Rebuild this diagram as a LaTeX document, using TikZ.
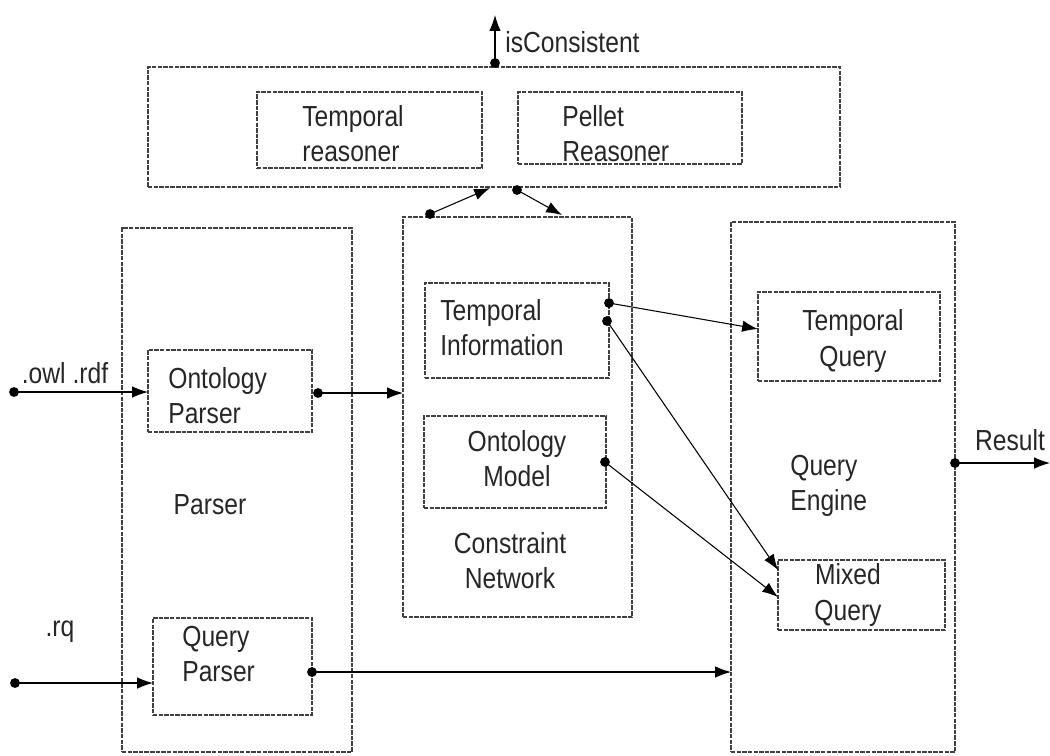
\documentclass[tikz,border=0pt]{standalone}
\usepackage{fontspec}
\setmainfont{Liberation Sans}[FakeStretch=0.85]
\usetikzlibrary{arrows.meta,fit}
\begin{document}
\begin{tikzpicture}[x=0.02cm,y=-0.02cm,
  box/.style={draw=black!75, dash pattern=on 2.5pt off 0.7pt, line width=0.6pt, inner sep=0pt},
  lbl/.style={font=\fontsize{16.5}{20}\selectfont, inner sep=0pt, text=black!85},
  arr/.style={line width=0.6pt, -{Latex[length=9pt,width=6.5pt]}},
  dot/.style={fill=black}]
\useasboundingbox (0,0) rectangle (1050,755);
% boxes
\node[box, fit={(148,67) (840,187)}] (top) {};
\node[box, fit={(257,92) (482,168)}] (tr) {};
\node[box, fit={(518,92) (742,164)}] (pr) {};
\node[box, fit={(122,228) (352,752)}] (parser) {};
\node[box, fit={(148,350) (312,432)}] (op) {};
\node[box, fit={(153,618) (312,715)}] (qp) {};
\node[box, fit={(403,217) (632,617)}] (cn) {};
\node[box, fit={(425,283) (609,378)}] (ti) {};
\node[box, fit={(424,416) (606,508)}] (om) {};
\node[box, fit={(731,222) (955,752)}] (qe) {};
\node[box, fit={(758,292) (940,381)}] (tq) {};
\node[box, fit={(778,560) (945,630)}] (mq) {};
% labels
\node[lbl, anchor=west, align=left] (trl) at (302,134) {Temporal\\reasoner};
\node[lbl, anchor=west, align=left] (prl) at (562,134) {Pellet\\Reasoner};
\node[lbl, anchor=west, align=left] (opl) at (168,396) {Ontology\\Parser};
\node[lbl] (parserl) at (210,505) {Parser};
\node[lbl, anchor=west, align=left] (qpl) at (182,654) {Query\\Parser};
\node[lbl, anchor=west, align=left] (til) at (440,328) {Temporal\\Information};
\node[lbl, align=center] (oml) at (517,459) {Ontology\\Model};
\node[lbl, align=center] (cnl) at (510,561) {Constraint\\Network};
\node[lbl, align=center] (tql) at (853,341) {Temporal\\Query};
\node[lbl, anchor=west, align=left] (qel) at (790,486) {Query\\Engine};
\node[lbl, align=center] (mql) at (848,595) {Mixed\\Query};
\node[lbl, anchor=west] (icl) at (505,42) {isConsistent};
\node[lbl] (owll) at (65,373) {.owl .rdf};
\node[lbl] (rql) at (60,632) {.rq};
\node[lbl] (resl) at (1010,440) {Result};
% ports
\coordinate (icS) at (495,63);   \coordinate (icE) at (495,15);
\coordinate (c1S) at (430,214);  \coordinate (c1E) at (490,188);
\coordinate (c2S) at (517,190);  \coordinate (c2E) at (562,215);
\coordinate (owlS) at (14,392);  \coordinate (owlE) at (148,392);
\coordinate (rqS) at (15,683);   \coordinate (rqE) at (153,683);
\coordinate (opS) at (318,393);  \coordinate (opE) at (403,393);
\coordinate (qpS) at (312,672);  \coordinate (qpE) at (731,672);
\coordinate (ti1S) at (609,303); \coordinate (ti1E) at (758,329);
\coordinate (ti2S) at (607,321); \coordinate (ti2E) at (778,570);
\coordinate (omS) at (605,462);  \coordinate (omE) at (778,597);
\coordinate (resS) at (955,463); \coordinate (resE) at (1050,463);
% connectors
\foreach \p in {ic,c1,c2,owl,rq,op,qp,ti1,ti2,om,res}{
  \draw[arr] (\p S) -- (\p E);
  \fill[dot] (\p S) circle (2.8pt);
}
\end{tikzpicture}
\end{document}
